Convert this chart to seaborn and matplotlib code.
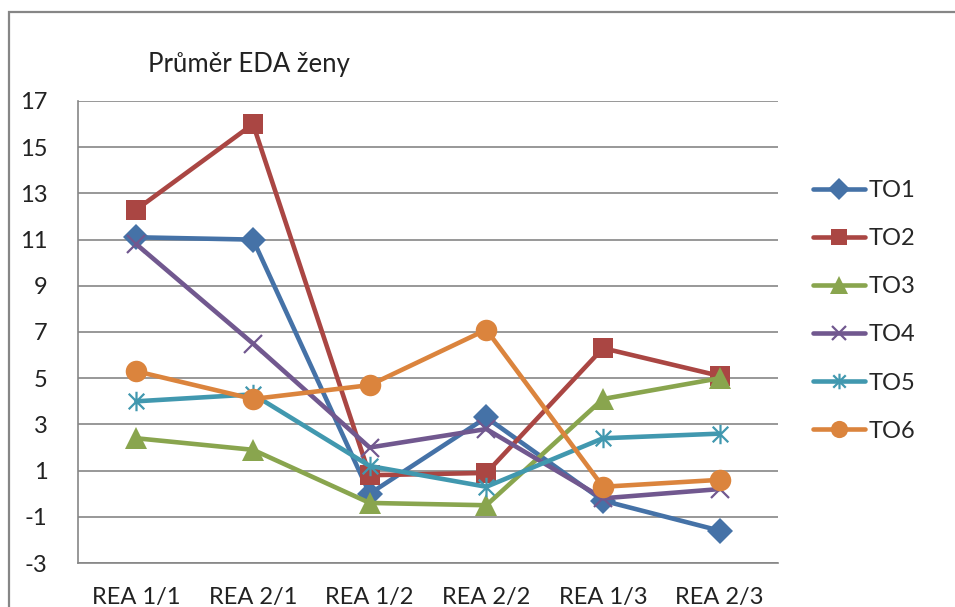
import matplotlib
matplotlib.use("Agg")
import matplotlib.pyplot as plt
from matplotlib.patches import Rectangle
from matplotlib.path import Path
import numpy as np
import pandas as pd
import seaborn as sns

# Categories and mean EDA values per series
categories = ["REA 1/1", "REA 2/1", "REA 1/2", "REA 2/2", "REA 1/3", "REA 2/3"]
to1 = [11.1, 11.0, 0.0, 3.3, -0.3, -1.6]
to2 = [12.3, 16.0, 0.8, 0.9, 6.3, 5.1]
to3 = [2.4, 1.9, -0.4, -0.5, 4.1, 5.0]
to4 = [10.8, 6.5, 2.0, 2.8, -0.2, 0.2]
to5 = [4.0, 4.3, 1.2, 0.3, 2.4, 2.6]
to6 = [5.3, 4.1, 4.7, 7.1, 0.3, 0.6]
series_names = ["TO1", "TO2", "TO3", "TO4", "TO5", "TO6"]
yticks = [-3, -1, 1, 3, 5, 7, 9, 11, 13, 15, 17]

sns.set_theme(style="white")
plt.rcParams["font.family"] = ["Lato", "DejaVu Sans"]

# asterisk marker: x plus vertical stroke
ast_path = Path(
    [(-1, -1), (1, 1), (-1, 1), (1, -1), (0, -1.25), (0, 1.25)],
    [Path.MOVETO, Path.LINETO, Path.MOVETO, Path.LINETO, Path.MOVETO, Path.LINETO],
)

styles = {
    "TO1": dict(color="#4572A7", marker="D", ms=13.5),
    "TO2": dict(color="#AA4643", marker="s", ms=15),
    "TO3": dict(color="#89A54E", marker="^", ms=16),
    "TO4": dict(color="#71588F", marker="x", ms=13, mew=1.6),
    "TO5": dict(color="#4198AF", marker=ast_path, ms=14, mew=1.6),
    "TO6": dict(color="#DB843D", marker="o", ms=15.5),
}

rows = []
for name, vals in zip(series_names, [to1, to2, to3, to4, to5, to6]):
    for i, (cat, v) in enumerate(zip(categories, vals)):
        rows.append({"series": name, "pos": i, "kategorie": cat, "value": v})
df = pd.DataFrame(rows)

fig = plt.figure(figsize=(9.55, 6.07), dpi=100)
ax = fig.add_axes([78 / 955, 1 - 563 / 607, 700 / 955, 462 / 607])

for name in series_names:
    st = styles[name]
    sub = df[df["series"] == name]
    kw = dict(marker=st["marker"], markersize=st["ms"], markeredgecolor=st["color"],
              markerfacecolor=st["color"])
    kw["markeredgewidth"] = st.get("mew", 0)
    sns.lineplot(data=sub, x="pos", y="value", color=st["color"], linewidth=3.3,
                 label=name, ax=ax, legend=False, **kw)

ax.set_xlim(-0.5, 5.5)
ax.set_ylim(-3, 17)
ax.set_yticks(yticks)
ax.set_yticklabels([str(t) for t in yticks])
ax.set_xticks(range(len(categories)))
ax.set_xticklabels(categories)
ax.set_xticks(np.arange(-0.5, 6.0, 1.0), minor=True)
ax.tick_params(axis="x", which="major", length=0, pad=17, labelsize=17, colors="#222222")
ax.tick_params(axis="x", which="minor", length=8, width=1.2, color="#868686", direction="out")
ax.tick_params(axis="y", which="major", length=8, width=1.2, color="#868686", direction="out",
               pad=14, labelsize=17, labelcolor="#222222")
ax.set_xlabel("")
ax.set_ylabel("")

ax.grid(axis="y", color="#868686", linewidth=1.2)
ax.set_axisbelow(True)
for side in ["top", "right"]:
    ax.spines[side].set_visible(False)
for side in ["left", "bottom"]:
    ax.spines[side].set_color("#868686")
    ax.spines[side].set_linewidth(1.2)

handles = [l for l in ax.get_lines() if l.get_label() in series_names]
ax.legend(handles=handles, labels=series_names, loc="upper left",
          bbox_to_anchor=(813 / 955, 1 - 180 / 607), bbox_transform=fig.transFigure,
          frameon=False, fontsize=17, handlelength=2.2, handletextpad=0.15,
          labelspacing=1.15, borderpad=0, borderaxespad=0, markerscale=0.8)

fig.text(148 / 955, 1 - 72 / 607, "Průměr EDA ženy", fontsize=18.5, ha="left",
         va="baseline", color="#222222")

fig.patches.append(Rectangle((9 / 955, -0.1), 2.0, 1 - 12 / 607 + 0.1,
                             transform=fig.transFigure, fill=False,
                             edgecolor="#868686", linewidth=1.6))

fig.savefig("out.png", dpi=100)
